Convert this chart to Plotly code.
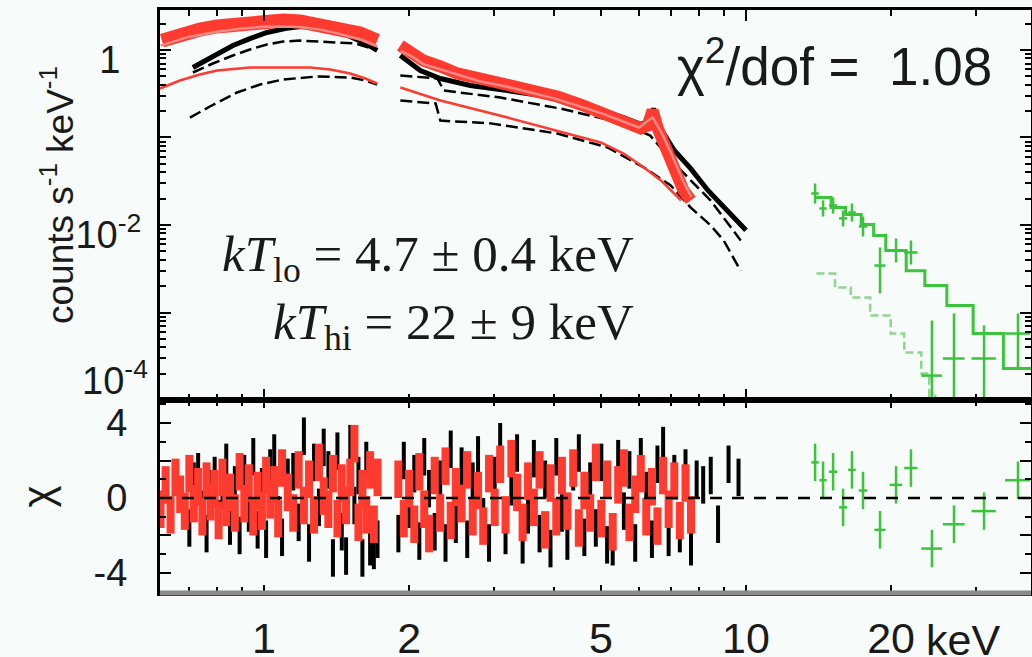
import plotly.graph_objects as go
from plotly.subplots import make_subplots

# ---------------- data ----------------
# XIS-BI (red) spectrum, 0.6-1.75 keV and 1.9-8 keV
bi_E_lo = [0.614, 0.669, 0.736, 0.799, 0.891, 0.981, 1.095, 1.188, 1.307, 1.439, 1.583, 1.717]
bi_F_lo = [1.28, 1.50, 1.71, 1.86, 2.01, 2.12, 2.17, 2.12, 1.96, 1.76, 1.54, 1.28]
bi_E_hi = [1.918, 2.031, 2.139, 2.322, 2.518, 2.812, 3.20, 3.57, 4.06, 4.54, 5.16, 5.63,
           6.05, 6.25, 6.40, 6.56, 6.88, 7.14, 7.42, 7.68]
bi_F_hi = [1.126, 0.936, 0.759, 0.648, 0.539, 0.472, 0.403, 0.354, 0.294, 0.238, 0.183, 0.152,
           0.127, 0.137, 0.204, 0.127, 0.0623, 0.0398, 0.0248, 0.0191]
# XIS-BI total model (thin pink line)
bi_mod_E_lo = [0.61, 0.70, 0.80, 0.90, 1.00, 1.10, 1.20, 1.30, 1.40, 1.50, 1.60, 1.72]
bi_mod_F_lo = [1.12, 1.42, 1.62, 1.76, 1.84, 1.86, 1.82, 1.72, 1.58, 1.44, 1.30, 1.10]
bi_mod_E_hi = [1.92, 2.03, 2.14, 2.32, 2.80, 3.20, 4.00, 5.00, 6.00, 6.40, 6.70, 7.00, 7.40, 7.70]
bi_mod_F_hi = [0.98, 0.84, 0.69, 0.60, 0.44, 0.38, 0.28, 0.19, 0.13, 0.17, 0.11, 0.065, 0.032, 0.021]
# XIS-BI single-temperature component
bi_cmp_E_lo = [0.608, 0.669, 0.736, 0.799, 0.935, 1.080, 1.247, 1.372, 1.509, 1.622, 1.717]
bi_cmp_F_lo = [0.363, 0.448, 0.525, 0.583, 0.631, 0.631, 0.631, 0.599, 0.539, 0.472, 0.414]
bi_cmp_E_hi = [1.918, 2.322, 3.20, 4.06, 4.995, 5.57, 6.14, 6.66, 7.33]
bi_cmp_F_hi = [0.373, 0.265, 0.169, 0.120, 0.0877, 0.0656, 0.0454, 0.0323, 0.0191]

# XIS-FI (black) spectrum
fi_E_lo = [0.712, 0.783, 0.862, 0.935, 1.014, 1.106, 1.188, 1.289, 1.392, 1.509, 1.622, 1.717]
fi_F_lo = [0.631, 0.843, 1.126, 1.35, 1.585, 1.76, 1.86, 1.81, 1.67, 1.43, 1.19, 0.99]
fi_E_hi = [1.918, 2.11, 2.322, 2.68, 3.20, 3.75, 4.38, 4.995, 5.57, 6.05, 6.28, 6.43, 6.59,
           7.10, 7.68, 8.34, 8.99, 9.53, 10.0]
fi_F_hi = [0.865, 0.583, 0.472, 0.393, 0.344, 0.302, 0.251, 0.204, 0.169, 0.141, 0.156, 0.214, 0.137,
           0.071, 0.044, 0.0248, 0.0158, 0.0112, 0.0087]
# XIS-FI total model (dashed)
fi_mod_E_lo = [0.712, 0.783, 0.862, 0.935, 1.014, 1.095, 1.188, 1.307, 1.439, 1.547, 1.717]
fi_mod_F_lo = [0.553, 0.701, 0.865, 1.013, 1.156, 1.25, 1.28, 1.25, 1.22, 1.19, 0.99]
fi_mod_E_hi = [1.918, 2.29, 2.36, 3.095, 4.12, 5.49, 6.33, 7.33, 8.45, 9.75]
fi_mod_F_hi = [0.511, 0.472, 0.344, 0.286, 0.214, 0.148, 0.105, 0.042, 0.019, 0.00665]
# XIS-FI component (dashed)
fi_cmp_E_lo = [0.702, 0.772, 0.879, 0.981, 1.095, 1.289, 1.509, 1.622, 1.717]
fi_cmp_F_lo = [0.169, 0.226, 0.327, 0.403, 0.460, 0.498, 0.485, 0.448, 0.403]
fi_cmp_E_hi = [1.918, 2.27, 2.322, 2.95, 4.06, 5.16, 6.14, 6.98, 7.68, 8.45, 8.99, 9.75]
fi_cmp_F_hi = [0.265, 0.245, 0.156, 0.145, 0.111, 0.0769, 0.0454, 0.0283, 0.0158, 0.00987, 0.00665, 0.0030]

# HXD-PIN (green) data, model and component
pin_E = [13.91, 14.45, 15.16, 15.90, 16.59, 17.49, 18.97, 20.48, 21.99, 24.31, 27.01, 31.18, 36.67]
pin_dE = [0.25, 0.25, 0.3, 0.3, 0.3, 0.35, 0.5, 0.6, 0.7, 1.2, 1.4, 1.8, 2.2]
pin_F = [0.0229, 0.01545, 0.0167, 0.0119, 0.0139, 0.00962, 0.00344, 0.00511, 0.00485,
         0.00019, 0.000298, 0.000298, 0.000575]
pin_F_up = [0.0298, 0.0191, 0.0206, 0.01465, 0.0176, 0.0125, 0.00553, 0.00702, 0.00665,
            0.00081, 0.000975, 0.00071, 0.000975]
pin_F_dn = [0.0176, 0.0125, 0.0135, 0.00962, 0.01096, 0.0074, 0.00165, 0.00373, 0.00354,
            0.00005, 0.00005, 0.00005, 0.000235]
pin_mod_E = [13.9, 15.02, 16.1, 17.34, 18.4, 19.5, 21.5, 23.5, 26.1, 29.6, 34.2, 39.3]
pin_mod_F = [0.0206, 0.0158, 0.0132, 0.0101, 0.0076, 0.00511, 0.0030, 0.00204, 0.00120,
             0.000575, 0.000229, 0.000229]
pin_cmp_E = [14.0, 15.3, 16.5, 18.1, 19.96, 21.3, 23.1, 24.0, 24.7]
pin_cmp_F = [0.00279, 0.00193, 0.00148, 0.000924, 0.000575, 0.000349, 0.000201, 0.000112, 0.00007]

# Residuals (chi)
res_E_lo = [0.61, 0.625, 0.64, 0.655, 0.67, 0.685, 0.70, 0.715, 0.73, 0.745, 0.76, 0.775, 0.79,
            0.805, 0.82, 0.835, 0.85, 0.87, 0.89, 0.91, 0.93, 0.95, 0.97, 0.99, 1.01, 1.03,
            1.05, 1.07, 1.09, 1.12, 1.15, 1.18, 1.21, 1.24, 1.27, 1.30, 1.33, 1.36, 1.39,
            1.42, 1.45, 1.48, 1.51, 1.54, 1.57, 1.60, 1.63, 1.66, 1.69, 1.72]
bi_res_lo = [-0.6, 0.7, -0.9, 1.1, 0.2, -0.7, 1.3, -0.3, 0.6, -1.0, 0.9, -0.2, 0.5,
             -1.2, 1.1, -0.5, 0.3, -0.8, 1.4, -0.3, 0.8, -1.0, 0.4, -0.7, 1.2, -0.1,
             0.7, -1.1, 1.6, 0.3, -0.8, 1.5, -0.4, 1.0, -0.9, 1.9, 0.1, -0.6, 1.3,
             -1.1, 0.8, -0.4, 1.1, 2.9, -1.3, 0.5, -0.9, 1.5, -1.4, 1.1]
fi_res_E_lo = res_E_lo[6:]
fi_res_lo = [-1.6, 0.9, 1.4, -0.6, -1.9, 0.5, 1.2, -1.1, 0.4, 1.9, -1.5, 0.7, -2.0,
             1.3, -0.8, 2.2, -1.7, 0.6, -2.2, 1.6, 2.4, -0.9, -2.1, 1.1, 1.4, -1.3,
             3.3, -2.4, 1.9, -0.5, 2.7, 1.5, -3.2, 2.5, -1.8, -3.1, 2.9, -0.4, 1.2,
             -3.2, 2.0, -2.6, -2.8, -2.2]
res_E_hi = [1.90, 1.95, 2.00, 2.05, 2.10, 2.15, 2.20, 2.26, 2.32, 2.38, 2.44, 2.50, 2.57,
            2.64, 2.71, 2.78, 2.85, 2.93, 3.01, 3.09, 3.17, 3.26, 3.35, 3.44, 3.53, 3.63,
            3.73, 3.83, 3.93, 4.04, 4.15, 4.26, 4.38, 4.50, 4.62, 4.75, 4.88, 5.01, 5.15,
            5.29, 5.43, 5.58, 5.73, 5.89, 6.05, 6.21, 6.38, 6.55, 6.73, 6.91, 7.10, 7.29,
            7.49, 7.69]
bi_res_hi = [1.0, -1.1, 0.5, -1.4, 1.4, -0.6, -1.9, 1.2, -0.8, 1.7, -1.2, 0.6, -0.3,
             1.5, -1.0, 0.4, -1.5, 1.3, -0.5, 1.8, -0.9, 2.1, 0.3, -1.3, 0.9, -0.5,
             1.5, -1.7, 0.8, -1.0, 1.2, -0.7, 1.6, -1.6, 0.4, -0.8, 1.9, -1.1, 1.0,
             -1.8, 0.7, 1.6, -1.3, 0.2, 1.3, -1.0, 0.6, -1.5, 1.2, -0.6, 0.9, -1.2,
             0.8, -0.9]
fi_res_E_hi = res_E_hi + [7.90, 8.15, 8.45, 8.75, 9.20, 9.65]
fi_res_hi = [-1.9, 2.0, -0.6, 1.3, -2.3, 2.2, 0.5, -1.8, 1.0, -2.4, 2.6, -1.4, 1.7,
             -2.2, 0.9, 2.3, -1.0, -2.4, 1.2, 3.0, -2.0, 0.6, 2.4, -2.5, -0.9, 2.1,
             -1.9, 1.0, -2.7, 2.2, -0.8, -2.3, 1.4, 2.4, -2.1, 0.9, -1.6, 1.9, -2.5,
             -2.6, 2.1, -0.7, 1.5, -2.4, 2.2, 0.4, -2.2, 1.8, 2.8, -2.1, 1.3, -1.9,
             1.6, -2.6, 1.0, 0.7, 1.2, -1.4, 1.8, 1.1]
pin_res = [1.9, 0.95, 1.4, -0.5, 1.5, 0.4, -1.7, 0.7, 1.6, -2.7, -1.4, -0.7, 0.95]

# tick labels
x_tick_vals = [1, 2, 5, 10, 20]
x_tick_text = ["1", "2", "5", "10", "20"]
y_tick_vals = [1e-4, 1e-3, 1e-2, 1e-1, 1]
y_tick_text = ["", "", "10<sup>-2</sup>", "", "1\u00a0\u00a0"]
y_bottom_label = "10<sup>-4</sup>"
r_tick_vals = [-4, -2, 0, 2, 4]
r_tick_text = ["-4", "", "0", "", "4"]

# ---------------- style ----------------
BG = "#f7fbf9"
RED = "#ff3b2f"
PINK = "#ee8a84"
BLACK = "#000000"
GREEN = "#3cc43c"
LGREEN = "#8fd68f"
TXT = "#1a1a1a"
SANS = "Liberation Sans"
SERIF = "Liberation Serif"

fig = make_subplots(rows=2, cols=1)


def line(E, F, color, width, dash="solid", shape="linear", row=1):
    fig.add_trace(go.Scatter(x=E, y=F, mode="lines",
                             line=dict(color=color, width=width, dash=dash, shape=shape),
                             showlegend=False, hoverinfo="skip"), row=row, col=1)


def resid(E, R, color, thick):
    fig.add_trace(go.Scatter(x=E, y=R, mode="markers",
                             marker=dict(size=2, color=color),
                             error_y=dict(type="constant", value=1, color=color,
                                          thickness=thick, width=0),
                             showlegend=False, hoverinfo="skip"), row=2, col=1)


# top panel: components first, then models, data
line(fi_cmp_E_lo, fi_cmp_F_lo, BLACK, 2.5, dash="12px,5px")
line(fi_cmp_E_hi, fi_cmp_F_hi, BLACK, 2.5, dash="12px,5px")
line(bi_cmp_E_lo, bi_cmp_F_lo, RED, 2.5)
line(bi_cmp_E_hi, bi_cmp_F_hi, RED, 2.5)
line(fi_mod_E_lo, fi_mod_F_lo, BLACK, 2.5, dash="12px,5px")
line(fi_mod_E_hi, fi_mod_F_hi, BLACK, 2.5, dash="12px,5px")
line(fi_E_lo, fi_F_lo, BLACK, 5)
line(fi_E_hi, fi_F_hi, BLACK, 5)
line(bi_E_lo, bi_F_lo, RED, 14)
line(bi_E_hi, bi_F_hi, RED, 12)
line(bi_mod_E_lo, bi_mod_F_lo, PINK, 2.5)
line(bi_mod_E_hi, bi_mod_F_hi, PINK, 2.5)

line(pin_cmp_E, pin_cmp_F, LGREEN, 2.5, dash="8px,4px", shape="hv")
line(pin_mod_E, pin_mod_F, GREEN, 3, shape="hv")
fig.add_trace(go.Scatter(
    x=pin_E, y=pin_F, mode="markers", marker=dict(size=2, color=GREEN),
    error_y=dict(type="data", symmetric=False,
                 array=[u - f for u, f in zip(pin_F_up, pin_F)],
                 arrayminus=[f - d for f, d in zip(pin_F, pin_F_dn)],
                 color=GREEN, thickness=2.5, width=0),
    error_x=dict(type="data", array=pin_dE, color=GREEN, thickness=2.5, width=0),
    showlegend=False, hoverinfo="skip"), row=1, col=1)

# bottom panel: residuals
resid(fi_res_E_lo, fi_res_lo, BLACK, 4)
resid(fi_res_E_hi, fi_res_hi, BLACK, 4)
resid(res_E_lo, bi_res_lo, RED, 8)
resid(res_E_hi, bi_res_hi, RED, 8)
fig.add_trace(go.Scatter(
    x=pin_E, y=pin_res, mode="markers", marker=dict(size=2, color=GREEN),
    error_y=dict(type="constant", value=1, color=GREEN, thickness=2.5, width=0),
    error_x=dict(type="data", array=pin_dE, color=GREEN, thickness=2.5, width=0),
    showlegend=False, hoverinfo="skip"), row=2, col=1)

# ---------------- layout ----------------
W, H = 1032, 657
XL, XR = 160 / W, 1031 / W
x_range = [-0.2158, 1.5913]

tick_common = dict(showgrid=False, zeroline=False, showline=True, linecolor="black",
                   linewidth=3, mirror="ticks", ticks="inside", tickcolor="black",
                   tickwidth=2, automargin=False)

minor_x_top = [0.7, 0.8, 0.9, 2, 3, 4, 5, 6, 7, 8, 9, 20, 30]
minor_x_bot = [0.7, 0.8, 0.9, 3, 4, 6, 7, 8, 9, 30]
minor_y = [k * 10 ** n for n in range(-4, 1) for k in range(2, 10) if k * 10 ** n < 2.8]

fig.update_layout(
    width=W, height=H, margin=dict(l=0, r=0, t=0, b=0, autoexpand=False),
    paper_bgcolor=BG, plot_bgcolor=BG, showlegend=False,
    font=dict(family=SANS, color=TXT),
    xaxis=dict(domain=[XL, XR], type="log", range=x_range, tickvals=[1, 10], ticklen=11,
               showticklabels=False,
               minor=dict(tickvals=minor_x_top, ticks="inside", ticklen=6, tickwidth=2,
                          tickcolor="black"), **tick_common),
    xaxis2=dict(domain=[XL, XR], type="log", range=x_range, tickvals=x_tick_vals,
                ticktext=x_tick_text, ticklen=8, tickfont=dict(size=43, family=SANS),
                ticklabelstandoff=5,
                minor=dict(tickvals=minor_x_bot, ticks="inside", ticklen=6, tickwidth=2,
                           tickcolor="black"), **tick_common),
    yaxis=dict(domain=[1 - 400 / H, 1 - 10 / H], type="log", range=[-4, 0.457],
               tickvals=y_tick_vals, ticktext=y_tick_text, ticklen=11,
               tickfont=dict(size=38, family=SANS), ticklabelshift=10, ticklabelstandoff=8,
               minor=dict(tickvals=minor_y, ticks="inside", ticklen=6, tickwidth=2,
                          tickcolor="black"),
               **tick_common),
    yaxis2=dict(domain=[1 - 593 / H, 1 - 400 / H], range=[-5.07, 5.23],
                tickvals=r_tick_vals, ticktext=r_tick_text, ticklen=11,
                tickfont=dict(size=38, family=SANS), ticklabelstandoff=22,
                minor=dict(dtick=1, ticks="inside", ticklen=6, tickwidth=2, tickcolor="black"),
                title=dict(text="χ", font=dict(size=42, family=SANS), standoff=28),
                **tick_common),
)

fig.add_shape(type="line", xref="x2 domain", x0=0, x1=1, yref="y2", y0=0, y1=0,
              line=dict(color="black", width=2.5, dash="12px,10px"), layer="above")
fig.add_shape(type="line", xref="x2 domain", x0=0, x1=1, yref="y2 domain", y0=0, y1=0,
              line=dict(color="#8a8a8a", width=5), layer="above")

# y-axis title of the spectrum panel
fig.add_annotation(text="counts s<sup>-1</sup> keV<sup>-1</sup>", xref="paper", yref="paper",
                   x=58 / W, y=1 - 195 / H, xanchor="center", yanchor="middle", textangle=-90,
                   showarrow=False, font=dict(family=SANS, size=37, color=TXT))
# lowest decade label of the spectrum axis, raised clear of the residual labels
fig.add_annotation(text=y_bottom_label, xref="paper", yref="paper",
                   x=150 / W, y=1 - 378 / H, xanchor="right", yanchor="middle",
                   showarrow=False, font=dict(family=SANS, size=38, color=TXT))

fig.add_annotation(text="<i>kT</i><sub>lo</sub> = 4.7 ± 0.4 keV", xref="paper", yref="paper",
                   x=636 / W, y=1 - 258 / H, xanchor="right", yanchor="middle",
                   showarrow=False, font=dict(family=SERIF, size=51, color=TXT))
fig.add_annotation(text="<i>kT</i><sub>hi</sub> = 22 ± 9 keV", xref="paper", yref="paper",
                   x=636 / W, y=1 - 326 / H, xanchor="right", yanchor="middle",
                   showarrow=False, font=dict(family=SERIF, size=51, color=TXT))
fig.add_annotation(text="χ<sup>2</sup>/dof = \u00a01.08", xref="paper", yref="paper",
                   x=834 / W, y=1 - 62 / H, xanchor="center", yanchor="middle",
                   showarrow=False, font=dict(family=SANS, size=53, color=TXT))
fig.add_annotation(text="keV", xref="paper", yref="paper",
                   x=963 / W, y=1 - 640 / H, xanchor="center", yanchor="middle",
                   showarrow=False, font=dict(family=SANS, size=43, color=TXT))

fig.write_html("out.html")
